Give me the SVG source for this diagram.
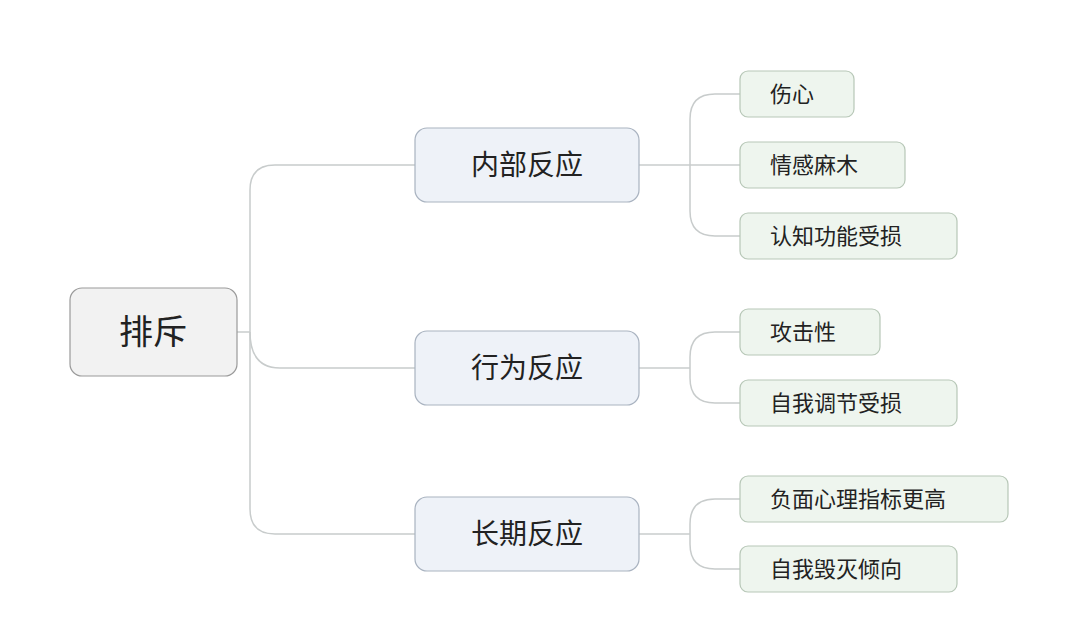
<svg xmlns="http://www.w3.org/2000/svg" width="1080" height="633" viewBox="0 0 1080 633">
<style>
text{font-family:"Noto Sans CJK SC","Noto Sans",sans-serif;fill:#222}
.c{fill:none;stroke:#c8cccc;stroke-width:1.5}
.r{fill:#f2f2f2;stroke:#9a9a9a;stroke-width:1.2}
.m{fill:#eef2f8;stroke:#a9b3c0;stroke-width:1.2}
.l{fill:#eef5ee;stroke:#b7c7b7;stroke-width:1.2}
.t1{font-size:28px}.t2{font-size:22px}
</style>
<rect width="1080" height="633" fill="#fff"/>
<g id="connectors">
<path class="c" d="M237 332 H250"/>
<path class="c" d="M415 165 H275 Q250 165 250 190 V509 Q250 534 275 534 H415"/>
<path class="c" d="M250 332 Q250 368 280 368 H415"/>
<path class="c" d="M639 165 H690"/>
<path class="c" d="M740 94 H715 Q690 94 690 119 V211 Q690 236 715 236 H740"/>
<path class="c" d="M690 165 H740"/>
<path class="c" d="M639 368 H690"/>
<path class="c" d="M740 332 H715 Q690 332 690 357 V378 Q690 403 715 403 H740"/>
<path class="c" d="M639 534 H690"/>
<path class="c" d="M740 499 H715 Q690 499 690 524 V544 Q690 569 715 569 H740"/>
</g>
<g id="root"><rect class="r" x="70" y="288" width="167" height="88" rx="12"/><text x="153" y="344" font-size="34" text-anchor="middle">排斥</text></g>
<g id="n1"><rect class="m" x="415" y="128" width="224" height="74" rx="12"/><text class="t1" x="527" y="175" text-anchor="middle">内部反应</text></g>
<g id="n2"><rect class="m" x="415" y="331" width="224" height="74" rx="12"/><text class="t1" x="527" y="378" text-anchor="middle">行为反应</text></g>
<g id="n3"><rect class="m" x="415" y="497" width="224" height="74" rx="12"/><text class="t1" x="527" y="544" text-anchor="middle">长期反应</text></g>
<g id="a1"><rect class="l" x="740" y="71" width="114" height="46" rx="8"/><text class="t2" x="770" y="102">伤心</text></g>
<g id="a2"><rect class="l" x="740" y="142" width="165" height="46" rx="8"/><text class="t2" x="770" y="173">情感麻木</text></g>
<g id="a3"><rect class="l" x="740" y="213" width="217" height="46" rx="8"/><text class="t2" x="770" y="244">认知功能受损</text></g>
<g id="b1"><rect class="l" x="740" y="309" width="140" height="46" rx="8"/><text class="t2" x="770" y="340">攻击性</text></g>
<g id="b2"><rect class="l" x="740" y="380" width="217" height="46" rx="8"/><text class="t2" x="770" y="411">自我调节受损</text></g>
<g id="c1"><rect class="l" x="740" y="476" width="268" height="46" rx="8"/><text class="t2" x="770" y="507">负面心理指标更高</text></g>
<g id="c2"><rect class="l" x="740" y="546" width="217" height="46" rx="8"/><text class="t2" x="770" y="577">自我毁灭倾向</text></g>
</svg>
